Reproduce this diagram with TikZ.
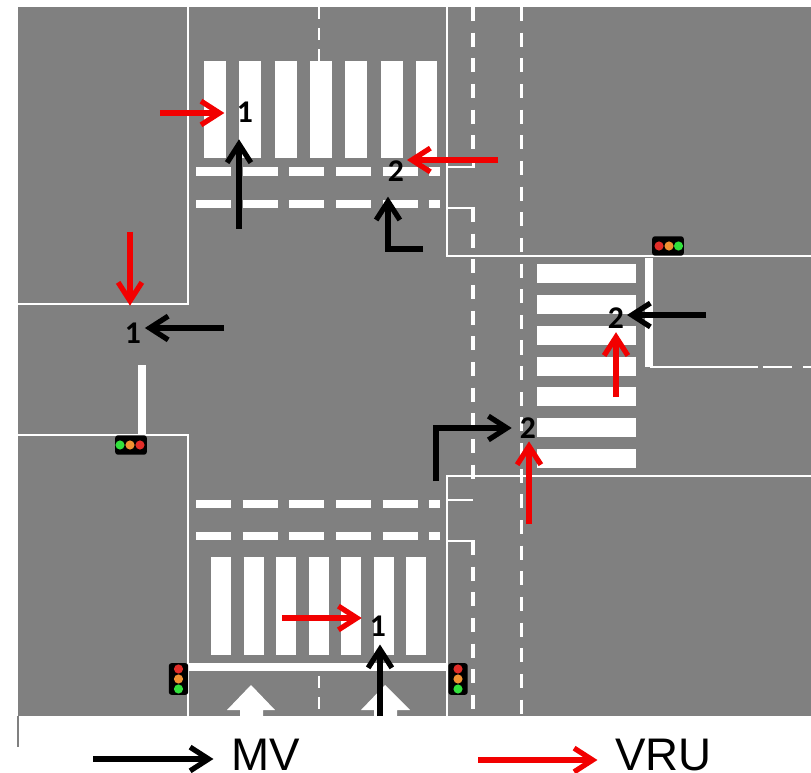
\documentclass[tikz,border=0pt]{standalone}
\usepackage{fontspec}
\setmainfont{Liberation Sans}
\newfontfamily\digitfont{Carlito}
\usetikzlibrary{positioning, calc, arrows.meta}
\definecolor{road}{RGB}{128,128,128}
\definecolor{lampred}{RGB}{225,45,40}
\definecolor{lamporange}{RGB}{240,145,50}
\definecolor{lampgreen}{RGB}{50,225,60}

\begin{document}
\begin{tikzpicture}[
    x=0.02cm, y=-0.02cm,
    kerb/.style={draw=white, line width=1.7pt},
    stopline/.style={draw=white, line width=4pt},
    lanedash/.style={draw=white, line width=2.2pt, dash pattern=on 8pt off 6.6pt},
    centredash/.style={draw=white, line width=1.7pt, dash pattern=on 7pt off 5pt},
    bardash/.style={draw=white, line width=5.1pt, dash pattern=on 19.9pt off 6.65pt},
    mvarrow/.style={draw=black, line width=3pt, -{Straight Barb[length=10.5pt, width=13.5pt]}},
    vruarrow/.style={draw=red!95!black, line width=3pt, -{Straight Barb[length=10.5pt, width=13.5pt]}},
    conflict/.style={font=\digitfont\bfseries\fontsize{18}{18}\selectfont, inner sep=1pt},
    legendtext/.style={font=\fontsize{26}{26}\selectfont, inner sep=0pt, anchor=west},
    housing/.style={fill=black, rounded corners=1.5pt, inner sep=0pt},
    lamp/.style={circle, inner sep=0pt, minimum size=5.2pt}
]
    \useasboundingbox (0,0) rectangle (811,773);

    % --- Road surface ---
    \fill[road] (18,7) rectangle (811,716);
    \draw[road, line width=0.6pt] (18,716) -- (18,747);

    % --- Kerbs ---
    \draw[kerb] (188,7) -- (188,304) -- (18,304);
    \draw[kerb] (18,435) -- (188,435) -- (188,716);
    \draw[kerb] (447,7) -- (447,256) -- (811,256);
    \draw[kerb] (447,716) -- (447,476) -- (811,476);
    \draw[kerb] (447,167) -- (473,167) -- (473,158);
    \draw[kerb] (447,208) -- (473,208) -- (473,220);
    \draw[kerb] (447,500) -- (473,500);
    \draw[kerb] (447,541) -- (473,541) -- (473,552);
    \draw[kerb] (650,367) -- (758,367);
    \draw[kerb] (763,367) -- (792,367);
    \draw[kerb] (803,367) -- (811,367);

    % --- Lane dashes ---
    \draw[lanedash] (473,7) -- (473,160);
    \draw[lanedash] (473,208) -- (473,480);
    \draw[lanedash] (473,541) -- (473,716);
    \draw[lanedash] (521.5,7) -- (521.5,716);
    \draw[centredash] (319,7) -- (319,61);
    \draw[centredash] (319,676) -- (319,716);

    % --- Stop lines ---
    \draw[stopline] (142,365) -- (142,435);
    \draw[stopline] (649,258) -- (649,367);
    \draw[draw=white, line width=5.1pt] (188,667) -- (447,667);

    % --- Zebra crossings ---
    \draw[draw=white, line width=55.2pt, dash pattern=on 12.6pt off 7.5pt] (204,109.5) -- (437,109.5);
    \draw[draw=white, line width=55.8pt, dash pattern=on 11.6pt off 6.9pt] (211,606) -- (426,606);
    \draw[draw=white, line width=56.3pt, dash pattern=on 10.9pt off 6.65pt] (586.5,264) -- (586.5,468);

    % --- Dashed bars ---
    \draw[bardash] (196,171.5) -- (440,171.5);
    \draw[bardash] (196,204) -- (440,204);
    \draw[bardash] (196,504) -- (440,504);
    \draw[bardash] (196,536) -- (440,536);

    % --- Painted lane arrows ---
    \fill[white] (251,685) -- (275,710) -- (263,710) -- (263,716) -- (240,716) -- (240,710) -- (227,710) -- cycle;
    \fill[white] (385,685) -- (410,710) -- (397,710) -- (397,716) -- (374,716) -- (374,710) -- (361,710) -- cycle;

    % --- Traffic lights ---
    \node[housing, minimum width=11pt, minimum height=18pt] (lightsw) at (178.5,679) {};
    \node[lamp, fill=lampred] (lightswr) at (178.5,669) {};
    \node[lamp, fill=lamporange] (lightswo) at (178.5,679) {};
    \node[lamp, fill=lampgreen] (lightswg) at (178.5,689) {};
    \node[housing, minimum width=11pt, minimum height=18pt] (lightse) at (458,679) {};
    \node[lamp, fill=lampred] (lightser) at (458,669) {};
    \node[lamp, fill=lamporange] (lightseo) at (458,679) {};
    \node[lamp, fill=lampgreen] (lightseg) at (458,689) {};
    \node[housing, minimum width=18pt, minimum height=11pt] (lightw) at (131,445) {};
    \node[lamp, fill=lampgreen] (lightwg) at (120,445) {};
    \node[lamp, fill=lamporange] (lightwo) at (130,445) {};
    \node[lamp, fill=lampred] (lightwr) at (140,445) {};
    \node[housing, minimum width=18pt, minimum height=11pt] (lighte) at (668,246) {};
    \node[lamp, fill=lampred] (lighter) at (659,246) {};
    \node[lamp, fill=lamporange] (lighteo) at (669,246) {};
    \node[lamp, fill=lampgreen] (lighteg) at (678.5,246) {};

    % --- Conflict points ---
    \node[conflict] (topone) at (245,112) {1};
    \node[conflict] (toptwo) at (396,171) {2};
    \node[conflict] (leftone) at (133,333) {1};
    \node[conflict] (midtwo) at (528,428) {2};
    \node[conflict] (righttwo) at (616,318) {2};
    \node[conflict] (botone) at (378,626) {1};

    % --- Arrow tails ---
    \coordinate (mvtopone) at (239,229);
    \coordinate (mvtoptwo) at (423,249);
    \coordinate (mvleftone) at (224,328);
    \coordinate (mvmidtwo) at (436,481);
    \coordinate (mvrighttwo) at (706,315);
    \coordinate (mvbotone) at (380,716);
    \coordinate (vrutopone) at (160,113);
    \coordinate (vrutoptwo) at (498,160);
    \coordinate (vruleftone) at (130,232);
    \coordinate (vrumidtwo) at (529,524);
    \coordinate (vrurighttwo) at (616,397);
    \coordinate (vrubotone) at (282,618);

    % --- MV arrows ---
    \draw[mvarrow, shorten >=8.5pt] (mvtopone) -- (mvtopone |- topone.south);
    \draw[mvarrow, shorten >=7.5pt] (mvtoptwo) -| (toptwo.south -| 388,0);
    \draw[mvarrow, shorten >=1pt] (mvleftone) -- (mvleftone -| leftone.east);
    \draw[mvarrow, shorten >=3.5pt] (mvmidtwo) |- (midtwo.west);
    \draw[mvarrow, shorten >=0.5pt] (mvrighttwo) -- (mvrighttwo -| righttwo.east);
    \draw[mvarrow, shorten >=3.5pt] (mvbotone) -- (mvbotone |- botone.south);

    % --- VRU arrows ---
    \draw[vruarrow, shorten >=6pt] (vrutopone) -- (vrutopone -| topone.west);
    \draw[vruarrow, shorten >=0.5pt] (vrutoptwo) -- (vrutoptwo -| toptwo.east);
    \draw[vruarrow, shorten >=8.5pt] (vruleftone) -- (vruleftone |- leftone.north);
    \draw[vruarrow, shorten >=0.5pt] (vrumidtwo) -- (vrumidtwo |- midtwo.south);
    \draw[vruarrow, shorten >=1pt] (vrurighttwo) -- (vrurighttwo |- righttwo.south);
    \draw[vruarrow, shorten >=3.5pt] (vrubotone) -- (vrubotone -| botone.west);

    % --- Legend ---
    \node[legendtext] (mvlabel) at (231,755) {MV};
    \node[legendtext] (vrulabel) at (615,755) {VRU};
    \coordinate (mvlegend) at (93,759);
    \coordinate (vrulegend) at (478,760);
    \draw[mvarrow, shorten >=10pt] (mvlegend) -- (mvlegend -| mvlabel.west);
    \draw[vruarrow, shorten >=10pt] (vrulegend) -- (vrulegend -| vrulabel.west);
\end{tikzpicture}
\end{document}
